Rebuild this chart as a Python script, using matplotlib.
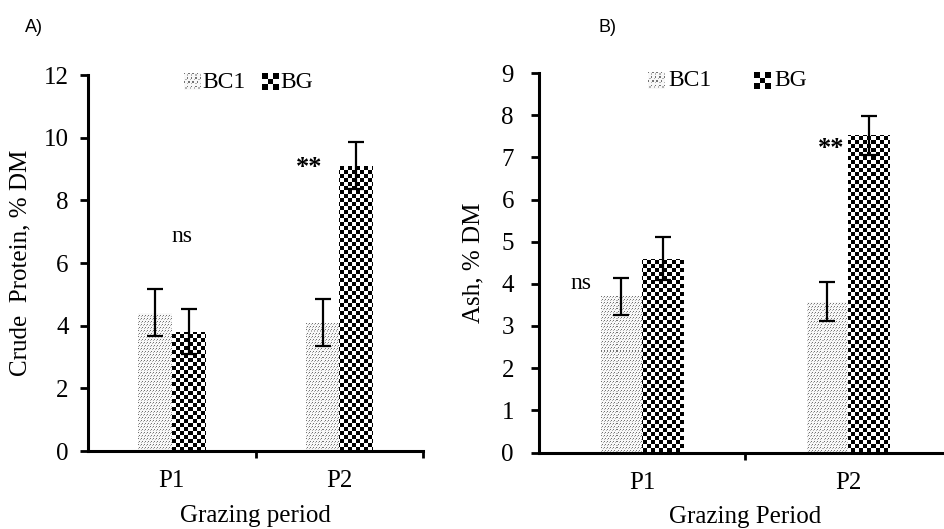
import numpy as np
import matplotlib
matplotlib.use("Agg")
import matplotlib.pyplot as plt
from matplotlib.offsetbox import OffsetImage, AnnotationBbox

plt.rcParams['font.family'] = ['Liberation Serif', 'DejaVu Serif']
plt.rcParams['font.size'] = 18

# data
periods = ['P1', 'P2']
series = ['BC1', 'BG']

cp_bc1 = [4.42, 4.10]
cp_bc1_err = [0.75, 0.76]
cp_bg = [3.80, 9.10]
cp_bg_err = [0.72, 0.75]

ash_bc1 = [3.70, 3.58]
ash_bc1_err = [0.45, 0.47]
ash_bg = [4.60, 7.52]
ash_bg_err = [0.50, 0.47]

W, H = 944, 529
fig = plt.figure(figsize=(W / 100, H / 100), dpi=100)


def stipple(h, w):
    # fine grey dots like the BC1 fill
    i, j = np.mgrid[0:h, 0:w]
    a = np.full((h, w), 0.97)
    a[(i % 3 == 0) & ((j + (i // 3) % 2 + 0) % 3 == 0)] = 0.45
    a[(i % 3 == 1) & ((j + 1 + (i // 3) % 2) % 3 == 0)] = 0.7
    return a


def checker(h, w, s=4):
    # black / white checkerboard like the BG fill
    i, j = np.mgrid[0:h, 0:w]
    return np.where(((i // s) + (j // s)) % 2 == 0, 0.0, 1.0)


def pattern_bars(ax, x, vals, width, pattern, ymax):
    bars = ax.bar(x, vals, width, color='none', edgecolor='none', zorder=1)
    bb = ax.get_position()
    npx_w = int(round(bb.width * W))
    npx_h = int(round(bb.height * H))
    img = pattern(npx_h, npx_w)
    for b in bars:
        im = ax.imshow(img, cmap='gray', vmin=0, vmax=1, aspect='auto',
                       interpolation='nearest', origin='upper',
                       extent=(-0.5, 1.5, 0, ymax), zorder=1)
        im.set_clip_path(b)
    return bars


def panel(ax, bc1, bc1_err, bg, bg_err, ymax, ylabel, xlabel, ytick_pad, ylabelpad):
    x = np.arange(len(periods))
    w = 0.2
    pattern_bars(ax, x - w / 2, bc1, w, stipple, ymax)
    pattern_bars(ax, x + w / 2, bg, w, checker, ymax)
    ax.errorbar(x - w / 2, bc1, yerr=bc1_err, fmt='none', ecolor='black',
                elinewidth=1.6, capsize=6, capthick=1.6, zorder=3)
    ax.errorbar(x + w / 2, bg, yerr=bg_err, fmt='none', ecolor='black',
                elinewidth=1.6, capsize=6, capthick=1.6, zorder=3)
    ax.set_xlim(-0.5, 1.5)
    ax.set_ylim(0, ymax)
    ax.set_xticks(x)
    ax.set_xticklabels(periods)
    ax.set_xticks([0.5, 1.5], minor=True)
    ax.tick_params(axis='x', which='major', length=0, pad=14)
    ax.tick_params(axis='x', which='minor', length=5, width=2, direction='out')
    ax.tick_params(axis='y', length=6, width=2, direction='out', pad=ytick_pad)
    for s in ['top', 'right']:
        ax.spines[s].set_visible(False)
    for s in ['left', 'bottom']:
        ax.spines[s].set_linewidth(2.2)
    ax.set_ylabel(ylabel, labelpad=ylabelpad)
    ax.set_xlabel(xlabel, labelpad=9)


def legend(ax, x1, x2, y):
    for xp, pat, name in [(x1, stipple(12, 12), 'BC1'), (x2, checker(12, 12), 'BG')]:
        ab = AnnotationBbox(OffsetImage(pat, cmap='gray', norm=plt.Normalize(0, 1),
                                        zoom=1, interpolation='nearest'),
                            (xp, y), xycoords='axes fraction', frameon=False,
                            box_alignment=(0.5, 0.5))
        ax.add_artist(ab)
        ax.text(xp + 0.03, y, name, transform=ax.transAxes, ha='left', va='center',
                fontsize=17)


ax1 = fig.add_axes([88 / W, 1 - 451 / H, (423 - 88) / W, (451 - 75) / H])
panel(ax1, cp_bc1, cp_bc1_err, cp_bg, cp_bg_err, 12,
      'Crude  Protein, % DM', 'Grazing period', 8, 9)
ax1.set_yticks(range(0, 13, 2))
legend(ax1, 0.31, 0.543, 0.981)
ax1.text(0.06, 6.85, 'ns', ha='center', va='center', fontsize=17)
ax1.text(0.82, 9.05, '**', ha='center', va='center', fontsize=19, fontweight='bold')

ax2 = fig.add_axes([539 / W, 1 - 452.5 / H, (951 - 539) / W, (452.5 - 73) / H])
panel(ax2, ash_bc1, ash_bc1_err, ash_bg, ash_bg_err, 9,
      'Ash, % DM', 'Grazing Period', 12, 12)
ax2.set_yticks(range(0, 10))
legend(ax2, 0.284, 0.541, 0.979)
ax2.text(-0.295, 4.0, 'ns', ha='center', va='center', fontsize=17)
ax2.text(0.92, 7.2, '**', ha='center', va='center', fontsize=19, fontweight='bold')

fig.text(25 / W, 1 - 28 / H, 'A)', family='Liberation Sans', fontsize=13, va='center')
fig.text(598 / W, 1 - 28 / H, 'B)', family='Liberation Sans', fontsize=13, va='center')

fig.savefig('out.png', dpi=100)
